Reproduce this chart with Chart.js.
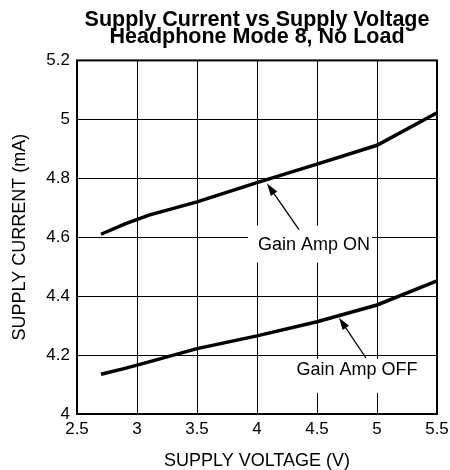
<!DOCTYPE html>
<html>
<head>
<meta charset="utf-8">
<script src="https://cdn.jsdelivr.net/npm/chart.js@4.4.0/dist/chart.umd.min.js"></script>
<style>
  html, body { margin: 0; padding: 0; background: #fff; }
  #wrap { width: 450px; height: 470px; }
</style>
</head>
<body>
<div id="wrap"><canvas id="myChart" width="450" height="470"></canvas></div>
<script>
var voltage = [2.7, 2.9, 3.1, 3.5, 4.0, 4.5, 5.0, 5.5];
var currentOn = [4.61, 4.645, 4.675, 4.72, 4.785, 4.848, 4.912, 5.022];
var currentOff = [4.135, 4.155, 4.177, 4.222, 4.265, 4.313, 4.37, 4.452];
var xTicks = [2.5, 3, 3.5, 4, 4.5, 5, 5.5];
var yTicks = [4, 4.2, 4.4, 4.6, 4.8, 5, 5.2];

var fontName = "'Liberation Sans', Arial, Helvetica, sans-serif";

function pts(ys) {
  return voltage.map(function (v, i) { return {x: v, y: ys[i]}; });
}

// labels with arrows, placed in data units (box = px above/below text centre)
var notes = [
  {text: "Gain Amp ON", x: 4.475, y: 4.575, from: [4.35, 4.626], to: [4.083, 4.782], up: 19, down: 18},
  {text: "Gain Amp OFF", x: 4.833, y: 4.150, from: [4.908, 4.19], to: [4.683, 4.327], up: 11, down: 23}
];

var notesPlugin = {
  id: "notes",
  beforeDatasetsDraw: function (chart) {
    var ctx = chart.ctx, xs = chart.scales.x, ys = chart.scales.y;
    ctx.save();
    ctx.font = "18px " + fontName;
    notes.forEach(function (n) {
      var cx = xs.getPixelForValue(n.x), cy = ys.getPixelForValue(n.y);
      var w = ctx.measureText(n.text).width;
      ctx.fillStyle = "#fff";
      ctx.fillRect(cx - w / 2 - 10, cy - n.up, w + 12, n.up + n.down);
      ctx.fillStyle = "#000";
      ctx.textAlign = "center";
      ctx.textBaseline = "middle";
      ctx.fillText(n.text, cx, cy);
      // arrow
      var x1 = xs.getPixelForValue(n.from[0]), y1 = ys.getPixelForValue(n.from[1]);
      var x2 = xs.getPixelForValue(n.to[0]), y2 = ys.getPixelForValue(n.to[1]);
      var a = Math.atan2(y2 - y1, x2 - x1);
      ctx.strokeStyle = "#000";
      ctx.lineWidth = 1.3;
      ctx.beginPath();
      ctx.moveTo(x1, y1);
      ctx.lineTo(x2 - 8 * Math.cos(a), y2 - 8 * Math.sin(a));
      ctx.stroke();
      ctx.beginPath();
      ctx.moveTo(x2, y2);
      ctx.lineTo(x2 - 13 * Math.cos(a - 0.3), y2 - 13 * Math.sin(a - 0.3));
      ctx.lineTo(x2 - 13 * Math.cos(a + 0.3), y2 - 13 * Math.sin(a + 0.3));
      ctx.closePath();
      ctx.fill();
    });
    ctx.restore();
  },
  afterDraw: function (chart) {
    var a = chart.chartArea, ctx = chart.ctx;
    ctx.save();
    ctx.strokeStyle = "#000";
    ctx.lineWidth = 2;
    ctx.strokeRect(a.left, a.top, a.right - a.left, a.bottom - a.top);
    ctx.restore();
  }
};

new Chart("myChart", {
  type: "line",
  data: {
    datasets: [{
      data: pts(currentOn),
      borderColor: "#000",
      borderWidth: 3.5,
      pointRadius: 0,
      tension: 0
    }, {
      data: pts(currentOff),
      borderColor: "#000",
      borderWidth: 3.5,
      pointRadius: 0,
      tension: 0
    }]
  },
  plugins: [notesPlugin],
  options: {
    responsive: false,
    animation: false,
    layout: {padding: 0},
    plugins: {
      legend: {display: false},
      tooltip: {enabled: false},
      title: {
        display: true,
        fullSize: false,
        text: ["Supply Current vs Supply Voltage", "Headphone Mode 8, No Load"],
        color: "#000",
        font: {family: fontName, size: 21.5, weight: "bold", lineHeight: 0.8},
        padding: {top: 11, bottom: 15}
      }
    },
    scales: {
      x: {
        type: "linear",
        min: 2.5,
        max: 5.5,
        afterBuildTicks: function (s) { s.ticks = xTicks.map(function (v) { return {value: v}; }); },
        afterFit: function (s) { s.height = 56; s.paddingRight = 13; s.paddingLeft = 0; },
        grid: {color: "#000", lineWidth: 1, drawTicks: false},
        border: {display: false},
        ticks: {color: "#000", font: {family: fontName, size: 17}, padding: 5,
                callback: function (v) { return String(v); }},
        title: {display: true, text: "SUPPLY VOLTAGE (V)", color: "#000",
                font: {family: fontName, size: 18, lineHeight: 1}, padding: {top: 13, bottom: 0}}
      },
      y: {
        min: 4,
        max: 5.2,
        afterBuildTicks: function (s) { s.ticks = yTicks.map(function (v) { return {value: v}; }); },
        afterFit: function (s) { s.width = 77; },
        grid: {color: "#000", lineWidth: 1, drawTicks: false},
        border: {display: false},
        ticks: {color: "#000", font: {family: fontName, size: 17}, padding: 7,
                callback: function (v) { return String(v); }},
        title: {display: true, text: "SUPPLY CURRENT (mA)", color: "#000",
                font: {family: fontName, size: 18, lineHeight: 1.2}, padding: {top: 9, bottom: 0}}
      }
    }
  }
});
</script>
</body>
</html>
